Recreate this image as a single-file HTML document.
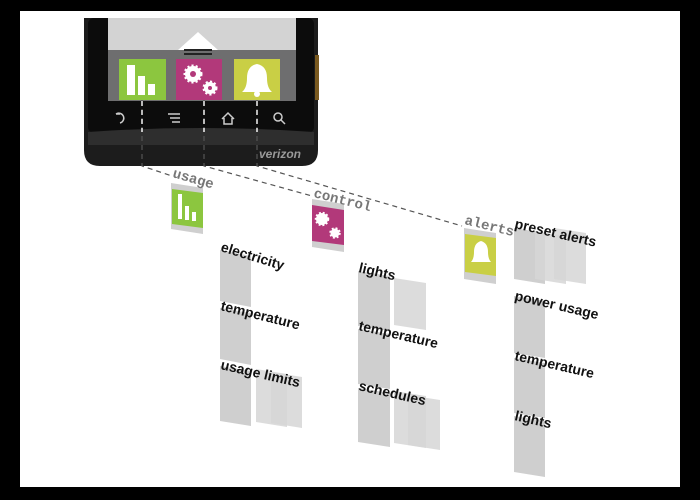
<!DOCTYPE html>
<html><head><meta charset="utf-8"><style>
html,body{margin:0;padding:0;background:#000;}
svg{display:block}
.lb{font-family:"Liberation Sans",sans-serif;font-weight:bold;font-size:14px;fill:#111}
.tl{font-family:"Liberation Mono",monospace;font-weight:bold;font-size:14px;fill:#777}
.c{fill:#cfcfcf}
.c2{fill:#d6d6d6;opacity:.85}
</style></head><body>
<svg width="700" height="500" viewBox="0 0 700 500" xmlns="http://www.w3.org/2000/svg">
<rect x="0" y="0" width="700" height="500" fill="#000"/>
<rect x="20" y="11" width="660" height="476" fill="#fff"/>
<path d="M84 18 H318 V150 Q318 166 302 166 H100 Q84 166 84 150 Z" fill="#1c1c1c"/>
<rect x="88" y="18" width="226" height="115" fill="#0c0c0c" rx="6"/>
<path d="M88 132 Q200 124 314 132 V145 H88 Z" fill="#2e2e2e"/>
<rect x="315" y="55" width="4" height="45" fill="#7a5a20"/>
<rect x="108" y="18" width="188" height="32" fill="#d3d3d3"/>
<rect x="108" y="50" width="188" height="51" fill="#6e6e6f"/>
<polygon points="178,50 198,32 218,50" fill="#fff"/>
<rect x="184" y="49" width="28" height="2" fill="#222"/><rect x="184" y="53" width="28" height="2" fill="#222"/>
<rect x="119" y="59" width="47" height="41" fill="#8cc63f"/>
<rect x="127" y="65" width="8" height="30" fill="#fff"/><rect x="138" y="76" width="7" height="19" fill="#fff"/><rect x="148" y="84" width="7" height="11" fill="#fff"/>
<rect x="176" y="59" width="46" height="41" fill="#b2397a"/>
<circle cx="193" cy="74" r="8" fill="#fff" stroke="#fff" stroke-width="3" stroke-dasharray="2 2"/><circle cx="193" cy="74" r="3" fill="#b2397a"/>
<circle cx="210" cy="88" r="6" fill="#fff" stroke="#fff" stroke-width="3" stroke-dasharray="2 2"/><circle cx="210" cy="88" r="2" fill="#b2397a"/>
<rect x="234" y="59" width="46" height="41" fill="#c9cf45"/>
<path d="M257 64 Q247 66 247 78 Q247 88 242 92 H272 Q267 88 267 78 Q267 66 257 64 Z" fill="#fff"/><circle cx="257" cy="94" r="3" fill="#fff"/>
<g fill="none" stroke="#ccc" stroke-width="1.5">
<path d="M116 114 A5 5 0 1 1 120 123 M116 114 h4"/>
<path d="M168 114 h12 M170 118 h10 M172 122 h8"/>
<path d="M222 119 L228 113 L234 119 M224 118 v6 h8 v-6"/>
<circle cx="278" cy="117" r="4"/><path d="M281 120 l4 4"/>
</g>
<text x="259" y="158" font-family="Liberation Sans" font-style="italic" font-weight="bold" font-size="12" fill="#999">verizon</text>
<g stroke="#555" stroke-dasharray="5 4" stroke-width="1.2" fill="none">
<path d="M142 100 V166 L172 176"/>
<path d="M204 100 V166 L312 196"/>
<path d="M257 100 V166 L462 226"/>
</g>
<g stroke="#fff" stroke-dasharray="5 4" stroke-width="1.4"><path d="M142 101 V132 M204 101 V132 M257 101 V132"/></g>
<polygon points="171,183 203,188 203,234 171,229" class="c"/>
<polygon points="172,189 203,193 203,228 172,224" fill="#8cc63f"/>
<rect x="178" y="194" width="4" height="25" fill="#fff"/><rect x="185" y="206" width="4" height="14" fill="#fff"/><rect x="192" y="212" width="4" height="9" fill="#fff"/>
<polygon points="312,199 344,204 344,252 312,247" class="c"/>
<polygon points="312,205 344,210 344,245 312,241" fill="#b2397a"/>
<circle cx="322" cy="219" r="6" fill="#fff" stroke="#fff" stroke-width="2.5" stroke-dasharray="1.8 1.8"/>
<circle cx="335" cy="233" r="4.5" fill="#fff" stroke="#fff" stroke-width="2.5" stroke-dasharray="1.8 1.8"/>
<polygon points="464,228 496,233 496,284 464,279" class="c"/>
<polygon points="465,234 496,238 496,276 465,272" fill="#c9cf45"/>
<path d="M481 241 Q474 243 474 252 Q474 259 471 262 H491 Q488 259 488 252 Q488 243 481 241 Z" fill="#fff"/>
<text class="tl" transform="translate(172,177) rotate(16)">usage</text>
<text class="tl" transform="translate(313,197) rotate(14)">control</text>
<text class="tl" transform="translate(464,224) rotate(14)">alerts</text>
<polygon points="220,250 251,256 251,307 220,301" class="c"/>
<polygon points="220,308 251,313 251,365 220,359" class="c"/>
<polygon points="220,366 251,371 251,426 220,421" class="c"/>
<polygon points="256,369 287,374 287,427 256,422" class="c2"/>
<polygon points="271,372 302,377 302,428 271,423" class="c2"/>
<text class="lb" transform="translate(220,251) rotate(17)">electricity</text>
<text class="lb" transform="translate(220,310) rotate(14)">temperature</text>
<text class="lb" transform="translate(220,369) rotate(13)">usage limits</text>
<polygon points="358,271 390,276 390,331 358,326" class="c"/>
<polygon points="394,278 426,283 426,330 394,325" class="c2"/>
<polygon points="358,329 390,334 390,389 358,384" class="c"/>
<polygon points="358,388 390,393 390,447 358,442" class="c"/>
<polygon points="394,391 426,396 426,448 394,443" class="c2"/>
<polygon points="408,395 440,400 440,450 408,445" class="c2"/>
<text class="lb" transform="translate(358,272) rotate(13)">lights</text>
<text class="lb" transform="translate(358,330) rotate(13)">temperature</text>
<text class="lb" transform="translate(358,390) rotate(13)">schedules</text>
<polygon points="514,228 545,233 545,284 514,279" class="c"/>
<polygon points="535,231 566,236 566,284 535,279" class="c2"/>
<polygon points="554,228 586,233 586,284 554,279" class="c2"/>
<polygon points="514,296 545,301 545,358 514,353" class="c"/>
<polygon points="514,358 545,363 545,418 514,413" class="c"/>
<polygon points="514,416 545,421 545,477 514,472" class="c"/>
<text class="lb" transform="translate(514,228) rotate(13)">preset alerts</text>
<text class="lb" transform="translate(514,300) rotate(13)">power usage</text>
<text class="lb" transform="translate(514,360) rotate(13)">temperature</text>
<text class="lb" transform="translate(514,420) rotate(13)">lights</text>
</svg>
</body></html>
